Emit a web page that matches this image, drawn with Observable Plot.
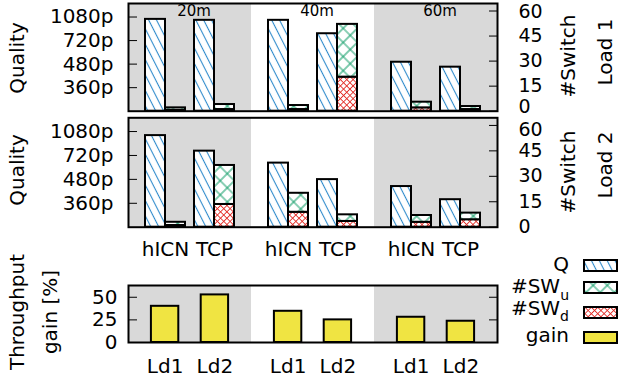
<!DOCTYPE html>
<html><head><meta charset="utf-8">
<script src="https://cdn.jsdelivr.net/npm/d3@7"></script>
<script src="https://cdn.jsdelivr.net/npm/@observablehq/plot@0.6"></script>
<style>
body{margin:0;background:#fff;font-family:"DejaVu Sans",sans-serif;}
#chart{position:relative;width:620px;height:378px;overflow:hidden;background:#fff;}
#chart svg{overflow:visible;}
.panel{position:absolute;left:0;}
.lbl{position:absolute;font-size:20px;white-space:nowrap;line-height:1;transform:translate(-50%,-50%) rotate(-90deg);}
</style></head><body>
<svg width="0" height="0" style="position:absolute">
<defs>
<pattern id="pQ" patternUnits="userSpaceOnUse" width="7" height="10" patternTransform="rotate(-27)">
<rect width="7" height="10" fill="#fff"/>
<line x1="3.5" y1="-1" x2="3.5" y2="11" stroke="#2f8bcc" stroke-width="1.1"/>
</pattern>
<pattern id="pU" patternUnits="userSpaceOnUse" width="10" height="10" patternTransform="rotate(45)">
<rect width="10" height="10" fill="#fff"/>
<path d="M0,5H10M5,0V10" stroke="#17a06c" stroke-width="1.1"/>
</pattern>
<pattern id="pD" patternUnits="userSpaceOnUse" width="4.5" height="4.5" patternTransform="rotate(45)">
<rect width="4.5" height="4.5" fill="#fff"/>
<path d="M0,2.25H4.5M2.25,0V4.5" stroke="#e3302a" stroke-width="0.9"/>
</pattern>
</defs>
</svg>
<div id="chart">
  <div class="lbl" style="left:17px;top:58px">Quality</div>
  <div class="lbl" style="left:17px;top:170px">Quality</div>
  <div class="lbl" style="left:568px;top:56px">#Switch</div>
  <div class="lbl" style="left:568px;top:172px">#Switch</div>
  <div class="lbl" style="left:605px;top:52px">Load 1</div>
  <div class="lbl" style="left:605px;top:165px">Load 2</div>
  <div class="lbl" style="left:17px;top:312px">Throughput</div>
  <div class="lbl" style="left:50px;top:312px">gain [%]</div>
  <svg id="legend" width="140" height="100" style="position:absolute;left:480px;top:250px;font-family:'DejaVu Sans';font-size:20px">
    <text x="89" y="21" text-anchor="end">Q</text>
    <text x="89" y="43" text-anchor="end">#SW<tspan font-size="14" dy="7">u</tspan></text>
    <text x="89" y="65" text-anchor="end">#SW<tspan font-size="14" dy="6">d</tspan></text>
    <text x="89" y="92" text-anchor="end">gain</text>
    <rect x="104" y="10" width="33" height="11" fill="url(#pQ)" stroke="#000" stroke-width="2"/>
    <rect x="104" y="32" width="33" height="11" fill="url(#pU)" stroke="#000" stroke-width="2"/>
    <rect x="104" y="57" width="33" height="11" fill="url(#pD)" stroke="#000" stroke-width="2"/>
    <rect x="104" y="82" width="33" height="11" fill="#f0e442" stroke="#000" stroke-width="2"/>
  </svg>
</div>
<script>
const distances = ["20m", "40m", "60m"];
const shadedDistances = ["20m", "60m"];
const protocols = ["hICN", "TCP"];
const qualityLabels = ["360p", "480p", "720p", "1080p"];
const qualityLevels = [1, 2, 3, 4];
const switchTicks = [0, 15, 30, 45, 60];
// order: 20m hICN, 20m TCP, 40m hICN, 40m TCP, 60m hICN, 60m TCP
const load1Quality = [3.9, 3.86, 3.86, 3.29, 2.08, 1.87];
const load1SwUp = [1.5, 3, 2.4, 31.6, 3.4, 1.8];
const load1SwDown = [0.5, 1, 1, 20.4, 2, 1];
const load2Quality = [3.83, 3.18, 2.68, 1.99, 1.70, 1.15];
const load2SwUp = [1.9, 23, 11.2, 3.9, 4, 3.9];
const load2SwDown = [1, 13.4, 8.8, 3.4, 2.9, 4.4];
const loads = ["Ld1", "Ld2"];
const gainLd1 = [40, 34.5, 27.9];
const gainLd2 = [52.6, 25, 23.5];
const gainTicks = [0, 25, 50];

const qualityUnit = 14.1; // #switch units per quality level on the shared axis
const GRAY = "#d9d9d9";
const baseStyle = {background: "transparent", fontFamily: "DejaVu Sans", fontSize: "20px", overflow: "visible"};

function qualityPanel(quality, up, down, opts) {
  const rows = [];
  distances.forEach((dist, i) => protocols.forEach((proto, j) => {
    const k = i * protocols.length + j;
    rows.push({dist, proto, q: quality[k] * qualityUnit, down: down[k], top: down[k] + up[k]});
  }));
  const common = {fx: "dist", x: "proto", stroke: "black", strokeWidth: 2};
  const xOpts = {domain: protocols, paddingInner: 0.1837, paddingOuter: 0.347, round: false};
  if (!opts.xAxis) xOpts.axis = null;
  const nudged = opts.nudge;
  const plain = switchTicks.filter(t => !nudged.some(n => n.tick === t));
  return Plot.plot({
    width: 620, height: opts.height,
    marginTop: opts.marginTop, marginBottom: opts.marginBottom, marginLeft: 127, marginRight: 123,
    style: baseStyle,
    fx: {domain: distances, padding: 0, axis: null},
    x: xOpts,
    y: {domain: [0, 64.5]},
    marks: [
      Plot.rect(shadedDistances, {fx: d => d, fill: GRAY}),
      Plot.barY(rows, {...common, y1: 0, y2: "q", insetRight: 20, fill: "url(#pQ)"}),
      Plot.barY(rows, {...common, y1: 0, y2: "down", insetLeft: 20, fill: "url(#pD)"}),
      Plot.barY(rows, {...common, y1: "down", y2: "top", insetLeft: 20, fill: "url(#pU)"}),
      Plot.axisY({anchor: "left", ticks: qualityLevels.map(v => v * qualityUnit),
        tickFormat: v => qualityLabels[qualityLevels.findIndex(l => Math.abs(l * qualityUnit - v) < 1e-6)],
        tickSize: -9, tickPadding: 24, label: null}),
      Plot.axisY({anchor: "right", ticks: switchTicks, tickSize: -9, tickFormat: () => "", label: null}),
      Plot.axisY({anchor: "right", ticks: plain, tickSize: 0, tickPadding: 21, fontSize: 19, label: null}),
      ...nudged.map(n => Plot.axisY({anchor: "right", ticks: [n.tick], tickSize: 0, tickPadding: 21, fontSize: 19, dy: n.dy, label: null})),
      opts.xAxis ? Plot.axisX({tickSize: 0, tickPadding: 15, label: null}) : null,
      opts.distLabels ? Plot.text(distances, {fx: d => d, text: d => d, frameAnchor: "top", lineAnchor: "top", dy: 2, dx: 4, fontSize: 15}) : null,
      Plot.frame({facet: "super", stroke: "black", strokeWidth: 2})
    ]
  });
}

const chart = document.getElementById("chart");
function place(el, top) { el.classList.add("panel"); el.style.top = top + "px"; chart.appendChild(el); }

place(qualityPanel(load1Quality, load1SwUp, load1SwDown,
  {height: 118, marginTop: 3, marginBottom: 7.3, distLabels: true, nudge: [{tick: 0, dy: -4}, {tick: 60, dy: 1}]}), 0);
place(qualityPanel(load2Quality, load2SwUp, load2SwDown,
  {height: 150, marginTop: 7.3, marginBottom: 33.3, xAxis: true, nudge: [{tick: 60, dy: 4}]}), 110);

const gainRows = [];
distances.forEach((dist, i) => {
  gainRows.push({dist, load: loads[0], gain: gainLd1[i]});
  gainRows.push({dist, load: loads[1], gain: gainLd2[i]});
});
const gainPlot = Plot.plot({
  width: 620, height: 108, marginTop: 15, marginBottom: 36, marginLeft: 127, marginRight: 123,
  style: baseStyle,
  fx: {domain: distances, padding: 0, axis: null},
  x: {domain: loads, paddingInner: 0.45, paddingOuter: 0.46, round: false},
  y: {domain: [0, 63]},
  marks: [
    Plot.rect(shadedDistances, {fx: d => d, fill: GRAY}),
    Plot.barY(gainRows, {fx: "dist", x: "load", y1: 0, y2: "gain", fill: "#f0e442", stroke: "black", strokeWidth: 2}),
    Plot.axisY({anchor: "left", ticks: gainTicks, tickSize: -9, tickPadding: 20, label: null}),
    Plot.axisY({anchor: "right", ticks: gainTicks, tickSize: -9, tickFormat: () => "", label: null}),
    Plot.axisX({tickSize: 0, tickPadding: 16, label: null}),
    Plot.frame({facet: "super", stroke: "black", strokeWidth: 2})
  ]
});
place(gainPlot, 270);
chart.appendChild(document.getElementById("legend"));
</script>
</body></html>
